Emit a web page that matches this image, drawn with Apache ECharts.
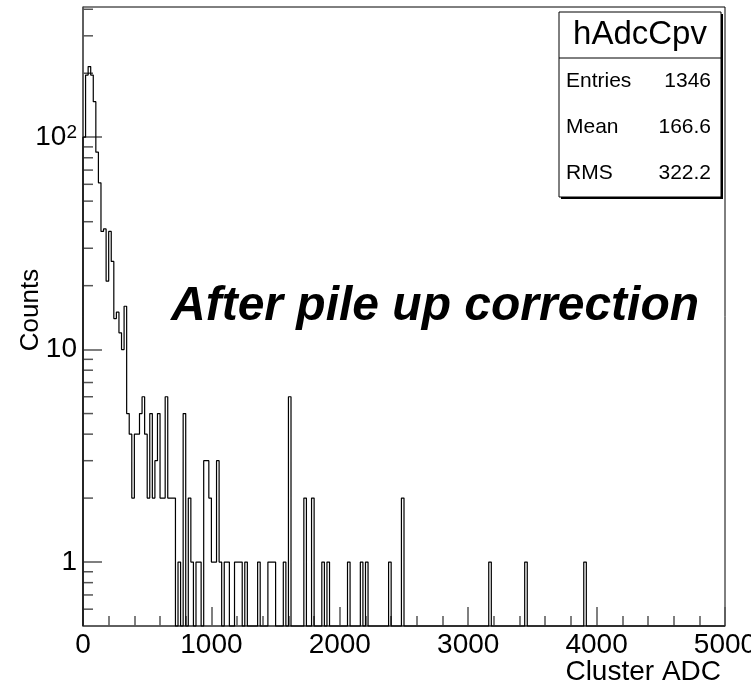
<!DOCTYPE html>
<html>
    <head>
        <title>hAdcCpv</title>
        <meta http-equiv="content-type" content="text/html; charset=utf-8">
        <style type="text/css">
            html,
            body {
                height: 100%;
                width: 100%;
                background: #fff;
                margin: 0;
            }
            #chart {
                width: 751px;
                height: 691px;
            }
        </style>
    </head>
    <body>
        <div id="chart"></div>
        <script src="https://cdn.jsdelivr.net/npm/echarts@6/dist/echarts.min.js"></script>
        <script>
            // histogram hAdcCpv, 250 bins of 20 ADC between 0 and 5000
            const binWidth = 20;
            const binCount = 250;
            const xMin = 0;
            const xMax = 5000;
            const yMin = 0.5;
            const yMax = 410;

            // bins 0..95
            const headCounts = [
                100, 196, 215, 196, 147, 85, 61, 36, 37, 21,
                36, 26, 14, 15, 12, 10, 16, 5, 4, 2,
                4, 4, 5, 6, 4, 2, 5, 2, 3, 5,
                2, 2, 6, 2, 2, 2, 0, 1, 0, 5,
                0, 2, 1, 0, 1, 1, 0, 3, 3, 2,
                1, 1, 3, 1, 0, 1, 1, 0, 0, 1,
                1, 1, 0, 1, 0, 0, 0, 0, 1, 0,
                0, 0, 1, 1, 1, 0, 0, 0, 1, 0,
                6, 0, 0, 0, 0, 0, 2, 0, 0, 2,
                0, 0, 0, 1, 0, 1
            ];
            // isolated bins further out
            const tailBins = [103, 108, 110, 119, 124, 158, 172, 195];
            const tailCounts = [1, 1, 1, 1, 2, 1, 1, 1];

            const statNames = ['Entries', 'Mean', 'RMS'];
            const statValues = ['1346', '166.6', '322.2'];

            const counts = new Array(binCount).fill(0);
            headCounts.forEach((c, i) => counts[i] = c);
            tailBins.forEach((b, i) => counts[b] = tailCounts[i]);

            // outline points, empty bins drawn on the frame bottom like ROOT does
            let outline = [[xMin, yMin]];
            counts.forEach((c, i) => outline.push([i * binWidth, Math.max(c, yMin)]));
            outline.push([binCount * binWidth, Math.max(counts[binCount - 1], yMin)]);
            outline.push([binCount * binWidth, yMin]);

            // minor ticks of the log axis: 2..9 in each decade
            let minorY = [];
            for (let d = -1; d <= 2; d++) {
                for (let m = 2; m <= 9; m++) {
                    let v = m * Math.pow(10, d);
                    if (v > yMin && v < yMax) minorY.push([xMin, v]);
                }
            }

            const font = 'Liberation Sans';
            const axisColor = '#555';

            let chart = echarts.init(document.getElementById('chart'));
            let option = {
                animation: false,
                backgroundColor: '#fff',
                textStyle: { fontFamily: font },
                grid: {
                    left: 83,
                    top: 7,
                    right: 26,
                    bottom: 65,
                    show: true,
                    borderColor: '#000',
                    borderWidth: 1,
                    containLabel: false,
                    outerBoundsMode: 'none'
                },
                xAxis: {
                    type: 'value',
                    min: xMin,
                    max: xMax,
                    interval: 1000,
                    axisLine: { show: true, lineStyle: { color: axisColor, width: 1.5 } },
                    axisTick: { show: true, inside: true, length: 19, lineStyle: { color: axisColor, width: 1.5 } },
                    minorTick: { show: true, splitNumber: 5, length: 10, lineStyle: { color: axisColor, width: 1.5 } },
                    splitLine: { show: false },
                    axisLabel: {
                        color: '#000', fontSize: 28, margin: 5, fontFamily: font,
                        formatter: function (v) { return String(v); }
                    }
                },
                yAxis: {
                    type: 'log',
                    logBase: 10,
                    min: yMin,
                    max: yMax,
                    axisLine: { show: true, lineStyle: { color: axisColor, width: 1.5 } },
                    axisTick: { show: true, inside: true, length: 19, lineStyle: { color: axisColor, width: 1.5 } },
                    splitLine: { show: false },
                    axisLabel: {
                        color: '#000',
                        fontSize: 28,
                        margin: 6,
                        fontFamily: font,
                        showMinLabel: false,
                        showMaxLabel: false,
                        formatter: function (v) {
                            let r = Math.round(v);
                            if (r === 100) return '{n|10}{s|2}';
                            return '{n|' + r + '}';
                        },
                        rich: {
                            n: { fontSize: 28, fontFamily: font, color: '#000' },
                            s: { fontSize: 19, fontFamily: font, color: '#000', verticalAlign: 'top' }
                        }
                    }
                },
                series: [
                    {
                        type: 'line',
                        name: 'hAdcCpv',
                        step: 'end',
                        symbol: 'none',
                        clip: false,
                        lineStyle: { color: '#000', width: 1.2 },
                        data: outline
                    },
                    {
                        type: 'custom',
                        silent: true,
                        clip: false,
                        data: minorY,
                        renderItem: function (params, api) {
                            let p = api.coord([api.value(0), api.value(1)]);
                            return {
                                type: 'line',
                                shape: { x1: p[0], y1: p[1], x2: p[0] + 10, y2: p[1] },
                                style: { stroke: axisColor, lineWidth: 1.5 }
                            };
                        }
                    }
                ],
                graphic: [
                    // stats box
                    { type: 'rect', shape: { x: 561, y: 14, width: 162, height: 185 }, style: { fill: '#000' } },
                    { type: 'rect', shape: { x: 559, y: 12, width: 162, height: 185 }, style: { fill: '#fff', stroke: '#000', lineWidth: 1 } },
                    { type: 'line', shape: { x1: 559, y1: 58, x2: 721, y2: 58 }, style: { stroke: '#000', lineWidth: 1 } },
                    {
                        type: 'text', x: 640, y: 35,
                        style: { text: 'hAdcCpv', fontSize: 33, fontFamily: font, fill: '#000', align: 'center', verticalAlign: 'middle', textAlign: 'center', textVerticalAlign: 'middle' }
                    },
                    ...statNames.map((s, i) => ({
                        type: 'text', x: 566, y: 81 + i * 46,
                        style: { text: s, fontSize: 21, fontFamily: font, fill: '#000', align: 'left', verticalAlign: 'middle', textAlign: 'left', textVerticalAlign: 'middle' }
                    })),
                    ...statValues.map((s, i) => ({
                        type: 'text', x: 711, y: 81 + i * 46,
                        style: { text: s, fontSize: 21, fontFamily: font, fill: '#000', align: 'right', verticalAlign: 'middle', textAlign: 'right', textVerticalAlign: 'middle' }
                    })),
                    {
                        type: 'text', x: 171, y: 307,
                        style: { text: 'After pile up correction', fontSize: 48, fontWeight: 'bold', fontStyle: 'italic', fontFamily: font, fill: '#000', align: 'left', verticalAlign: 'middle', textAlign: 'left', textVerticalAlign: 'middle' }
                    },
                    // axis titles
                    {
                        type: 'text', x: 721, y: 672,
                        style: { text: 'Cluster ADC', fontSize: 28, fontFamily: font, fill: '#000', align: 'right', verticalAlign: 'middle', textAlign: 'right', textVerticalAlign: 'middle' }
                    },
                    {
                        type: 'text', x: 31, y: 310, rotation: Math.PI / 2,
                        style: { text: 'Counts', fontSize: 26, fontFamily: font, fill: '#000', align: 'center', verticalAlign: 'middle', textAlign: 'center', textVerticalAlign: 'middle' }
                    }
                ]
            };
            chart.setOption(option);
        </script>
    </body>
</html>
